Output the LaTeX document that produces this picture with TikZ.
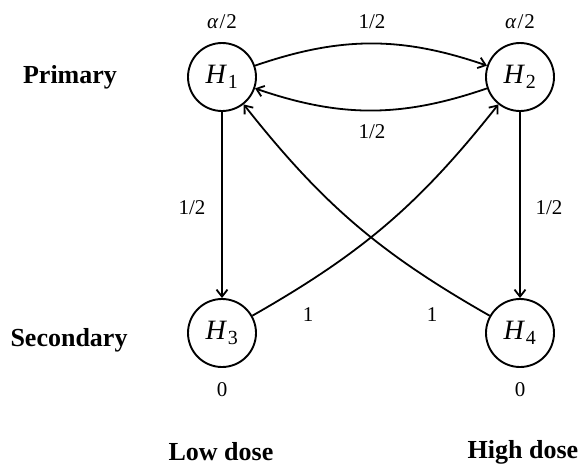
\documentclass[tikz,border=0pt]{standalone}
\usepackage{fontspec}
\setmainfont{Liberation Serif}
\usetikzlibrary{arrows.meta}
\begin{document}
\begin{tikzpicture}[x=1pt,y=1pt,
  font=\fontsize{21}{24}\selectfont,
  state/.style={circle, draw, line width=1.9pt, minimum size=68pt, inner sep=0pt, font=\fontsize{28}{30}\selectfont},
  edge/.style={-{Straight Barb[length=7pt,width=11pt,line width=1.8pt]}, line width=1.8pt},
  lab/.style={font=\fontsize{21}{24}\selectfont, inner sep=1pt},
  side/.style={font=\fontsize{26}{30}\selectfont\bfseries}]
\useasboundingbox (0,0) rectangle (583,-466);
\node[state] (H1) at (222,-77) {\textit{H}\kern1pt\textsubscript{\fontsize{20}{20}\selectfont 1}};
\node[state] (H2) at (520,-77) {\textit{H}\kern1pt\textsubscript{\fontsize{20}{20}\selectfont 2}};
\node[state] (H3) at (222,-333) {\textit{H}\kern1pt\textsubscript{\fontsize{20}{20}\selectfont 3}};
\node[state] (H4) at (520,-333) {\textit{H}\kern1pt\textsubscript{\fontsize{20}{20}\selectfont 4}};
\node[lab] (w1) at (222,-22) {\textit{α}\kern1pt/\kern1pt2};
\node[lab] (w2) at (520,-22) {\textit{α}\kern1pt/\kern1pt2};
\node[lab] (w3) at (222,-390) {0};
\node[lab] (w4) at (520,-390) {0};
\node[side] (prim) at (70,-77) {Primary};
\node[side] (sec) at (69,-340) {Secondary};
\node[side] (low) at (221,-452) {Low dose};
\node[side] (high) at (523,-452) {High dose};
\draw[edge] (H1) to[bend left=19] (H2);
\draw[edge] (H2) to[bend left=19] (H1);
\draw[edge] (H1) -- (H3);
\draw[edge] (H2) -- (H4);
\draw[edge] (H3) to[bend right=11] (H2);
\draw[edge] (H4) to[bend left=11] (H1);
\node[lab] (l12) at (372,-22) {1/2};
\node[lab] (l21) at (372,-132) {1/2};
\node[lab] (l13) at (192,-208) {1/2};
\node[lab] (l24) at (549,-208) {1/2};
\node[lab] (l32) at (308,-315) {1};
\node[lab] (l41) at (432,-315) {1};
\end{tikzpicture}
\end{document}
